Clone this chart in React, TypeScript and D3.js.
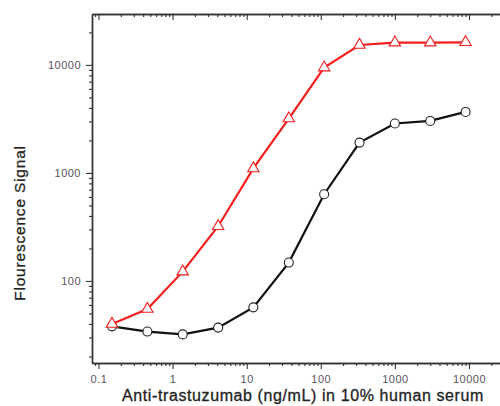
import React, { useRef, useEffect } from "react";
import * as d3 from "d3";

// 3-fold dilution series (ng/mL)
const concentrations = [0.152, 0.457, 1.37, 4.12, 12.3, 37, 111, 333, 1000, 3000, 9000];
const redSignal = [40, 55, 122, 321, 1100, 3190, 9450, 15300, 16100, 16100, 16200];
const blackSignal = [38, 34, 32, 37, 57, 148, 635, 1910, 2870, 3030, 3670];

const xMajorTicks = [0.1, 1, 10, 100, 1000, 10000];
const xTickLabels = ["0.1", "1", "10", "100", "1000", "10000"];
const yMajorTicks = [100, 1000, 10000];
const yTickLabels = ["100", "1000", "10000"];

const xTitle = "Anti-trastuzumab (ng/mL) in 10% human serum";
const yTitle = "Flourescence Signal";

const W = 500;
const H = 406;
const FONT = "'Liberation Sans', Arial, sans-serif";

const App = () => {
  const svgRef = useRef<SVGSVGElement | null>(null);

  useEffect(() => {
    const svg = d3.select(svgRef.current);
    svg.selectAll("*").remove();

    const left = 92, right = 502, top = 14, bottom = 363;

    // scales
    const x = d3.scaleLog().domain([0.0817, 27900]).range([left, right]);
    const y = d3.scaleLog().domain([17.4, 29600]).range([bottom, top]);

    const xMinor = x.ticks().filter((v) => !xMajorTicks.includes(v));
    const yMinor = y.ticks().filter((v) => !yMajorTicks.includes(v));

    const axisColor = "#333";

    const styleAxis = (g) => {
      g.select(".domain").attr("stroke", axisColor).attr("stroke-width", 1.4);
      g.selectAll(".tick line").attr("stroke", axisColor).attr("stroke-width", 1.1);
      g.selectAll("text")
        .attr("fill", "#5a5560")
        .style("font-family", FONT)
        .style("font-size", "11px")
        .style("letter-spacing", "0.5px");
    };

    // bottom axis
    svg.append("g")
      .attr("transform", `translate(0,${bottom})`)
      .call(d3.axisBottom(x).tickValues(xMinor).tickSize(3).tickSizeOuter(0).tickFormat(() => ""))
      .call(styleAxis);
    svg.append("g")
      .attr("transform", `translate(0,${bottom})`)
      .call(
        d3.axisBottom(x).tickValues(xMajorTicks).tickSize(6).tickSizeOuter(0).tickPadding(6)
          .tickFormat((d, i) => xTickLabels[i])
      )
      .call(styleAxis);

    // top axis (ticks inside)
    svg.append("g")
      .attr("transform", `translate(0,${top})`)
      .call(d3.axisBottom(x).tickValues(xMinor).tickSize(3).tickSizeOuter(0).tickFormat(() => ""))
      .call(styleAxis);
    svg.append("g")
      .attr("transform", `translate(0,${top})`)
      .call(d3.axisBottom(x).tickValues(xMajorTicks).tickSize(6).tickSizeOuter(0).tickFormat(() => ""))
      .call(styleAxis);

    // left axis
    svg.append("g")
      .attr("transform", `translate(${left},0)`)
      .call(d3.axisLeft(y).tickValues(yMinor).tickSize(3).tickSizeOuter(0).tickFormat(() => ""))
      .call(styleAxis);
    svg.append("g")
      .attr("transform", `translate(${left},0)`)
      .call(
        d3.axisLeft(y).tickValues(yMajorTicks).tickSize(6).tickSizeOuter(0).tickPadding(5)
          .tickFormat((d, i) => yTickLabels[i])
      )
      .call(styleAxis);

    // right axis (mostly outside the frame)
    svg.append("g")
      .attr("transform", `translate(${right},0)`)
      .call(d3.axisLeft(y).tickValues(yMajorTicks).tickSize(-4).tickSizeOuter(0).tickFormat(() => ""))
      .call(styleAxis);

    // lines
    const line = d3.line<[number, number]>()
      .x((d) => x(d[0]))
      .y((d) => y(d[1]));

    const blackData = concentrations.map((c, i) => [c, blackSignal[i]] as [number, number]);
    const redData = concentrations.map((c, i) => [c, redSignal[i]] as [number, number]);

    svg.append("path")
      .datum(blackData)
      .attr("fill", "none")
      .attr("stroke", "#111")
      .attr("stroke-width", 2.2)
      .attr("d", line);

    svg.append("path")
      .datum(redData)
      .attr("fill", "none")
      .attr("stroke", "#f41e1e")
      .attr("stroke-width", 2.2)
      .attr("d", line);

    // markers
    svg.append("g")
      .selectAll("circle")
      .data(blackData)
      .join("circle")
      .attr("cx", (d) => x(d[0]))
      .attr("cy", (d) => y(d[1]))
      .attr("r", 4.5)
      .attr("fill", "white")
      .attr("stroke", "#222")
      .attr("stroke-width", 1.1);

    const tri = d3.symbol().type(d3.symbolTriangle).size(56);
    svg.append("g")
      .selectAll("path")
      .data(redData)
      .join("path")
      .attr("transform", (d) => `translate(${x(d[0])},${y(d[1])})`)
      .attr("d", tri)
      .attr("fill", "white")
      .attr("stroke", "#f41e1e")
      .attr("stroke-width", 1.1);

    // titles
    svg.append("text")
      .attr("x", 303)
      .attr("y", 401)
      .attr("text-anchor", "middle")
      .attr("fill", "#222")
      .attr("stroke", "#222")
      .attr("stroke-width", 0.3)
      .style("font-family", FONT)
      .style("font-size", "16px")
      .style("letter-spacing", "0.6px")
      .text(xTitle);

    svg.append("text")
      .attr("transform", `translate(25,${223}) rotate(-90)`)
      .attr("text-anchor", "middle")
      .attr("fill", "#222")
      .attr("stroke", "#222")
      .attr("stroke-width", 0.3)
      .style("font-family", FONT)
      .style("font-size", "15.5px")
      .style("letter-spacing", "0.8px")
      .text(yTitle);
  }, []);

  return (
    <svg
      ref={svgRef}
      width={W}
      height={H}
      style={{ position: "absolute", left: 0, top: 0, background: "white" }}
    />
  );
};

export default App;
